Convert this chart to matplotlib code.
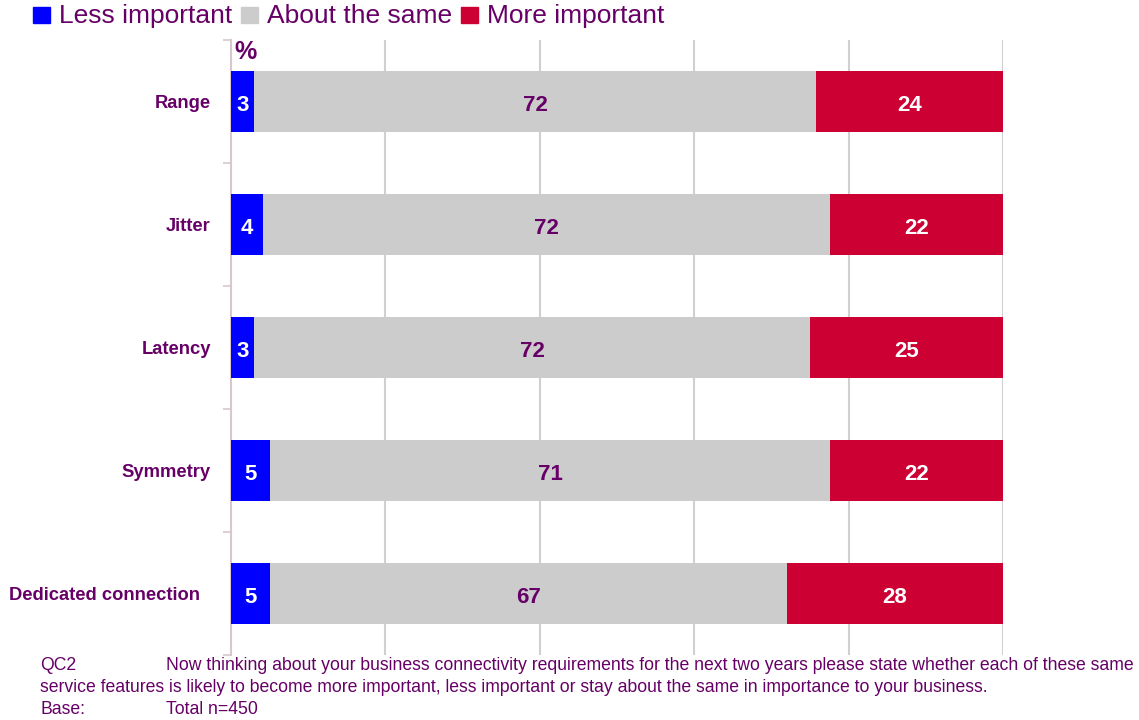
import matplotlib.pyplot as plt
from matplotlib.patches import Rectangle
from matplotlib.transforms import offset_copy
import numpy as np

categories = ['Range', 'Jitter', 'Latency', 'Symmetry', 'Dedicated connection']
less_important = [3, 4, 3, 5, 5]
about_same = [72, 72, 72, 71, 67]
more_important = [24, 22, 25, 22, 28]

series_names = ['Less important', 'About the same', 'More important']
series_colors = ['#0000FF', '#CCCCCC', '#CC0033']
label_colors = ['white', '#660066', 'white']

PURPLE = '#660066'

plt.rcParams['font.family'] = ['Liberation Sans', 'DejaVu Sans']

fig = plt.figure(figsize=(11.39, 7.2), dpi=100)
ax = fig.add_axes([231 / 1139, 1 - 655 / 720, (1003 - 231) / 1139, (655 - 40) / 720])

data = np.array([less_important, about_same, more_important], dtype=float)
# 100% stacked: each row is scaled by its own total
shares = data / data.sum(axis=0) * 100
y = np.arange(len(categories))

left = np.zeros(len(categories))
for k in range(3):
    ax.barh(y, shares[k], left=left, height=0.5, color=series_colors[k],
            edgecolor='none', zorder=3)
    for i in range(len(categories)):
        ax.text(left[i] + shares[k][i] / 2, y[i] + 0.01, f'{int(data[k][i])}',
                ha='center', va='center_baseline', fontsize=16,
                fontweight='bold', color=label_colors[k], zorder=4)
    left += shares[k]

ax.set_xlim(0, 100)
ax.set_ylim(len(categories) - 0.5, -0.5)
ax.set_xticks([20, 40, 60, 80, 100])
ax.xaxis.grid(True, color='#D0D0D0', linewidth=1.5, zorder=0)
ax.tick_params(axis='x', length=0, labelbottom=False)

# ticks mark the category boundaries
ax.set_yticks(np.arange(len(categories) + 1) - 0.5)
ax.set_yticklabels([])
ax.tick_params(axis='y', which='major', length=6, width=1.2, color='#D8C8CC',
               direction='out')

# category names, the long one sits a little further out
label_gap = [20, 20, 20, 20, 31]
for i, name in enumerate(categories):
    tr = offset_copy(ax.get_yaxis_transform(), fig=fig, x=-label_gap[i],
                     y=0, units='dots')
    ax.text(0, y[i], name, transform=tr, ha='right', va='center_baseline',
            fontsize=13.2, fontweight='bold', color=PURPLE)

for side in ['top', 'right', 'bottom']:
    ax.spines[side].set_visible(False)
ax.spines['left'].set_color('#D8C8CC')
ax.spines['left'].set_linewidth(1.5)

ax.text(0.005, 1.0, '%', transform=ax.transAxes, ha='left', va='top',
        fontsize=18, fontweight='bold', color=PURPLE)

# legend row along the top
x0 = 33
for name, color in zip(series_names, series_colors):
    fig.patches.append(Rectangle((x0 / 1139, 1 - 23 / 720), 17 / 1139, 16 / 720,
                                 transform=fig.transFigure, color=color))
    t = fig.text((x0 + 26) / 1139, 1 - 23 / 720, name, ha='left',
                 va='baseline', fontsize=19, color=PURPLE)
    fig.canvas.draw()
    bb = t.get_window_extent()
    x0 = bb.x1 + 9

# question footnote
foot = dict(fontsize=12.7, color=PURPLE, va='center')
fig.text(40 / 1139, 1 - 665 / 720, 'QC2', **foot)
fig.text(166 / 1139, 1 - 665 / 720,
         'Now thinking about your business connectivity requirements for the next two years please state whether each of these same',
         **foot)
fig.text(40 / 1139, 1 - 688 / 720,
         'service features is likely to become more important, less important or stay about the same in importance to your business.',
         **foot)
fig.text(40 / 1139, 1 - 710 / 720, 'Base:', **foot)
fig.text(166 / 1139, 1 - 710 / 720, 'Total n=450', **foot)

fig.savefig('out.png', dpi=100)
